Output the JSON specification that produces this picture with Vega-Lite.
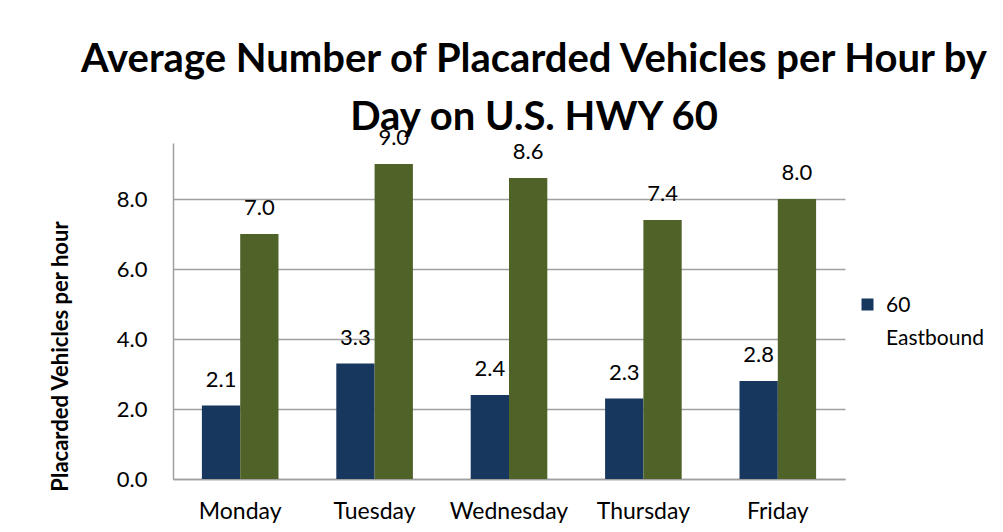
{
  "$schema": "https://vega.github.io/schema/vega-lite/v6.json",
  "width": 672,
  "height": 336,
  "autosize": {"type": "none"},
  "padding": {"left": 173, "top": 143, "right": 158, "bottom": 53},
  "background": "white",
  "title": {
    "text": ["Average Number of Placarded Vehicles per Hour by", "Day on U.S. HWY 60"],
    "font": "Lato",
    "fontSize": 40,
    "fontWeight": "bold",
    "color": "black",
    "lineHeight": 58,
    "anchor": "middle",
    "dx": 25,
    "baseline": "alphabetic",
    "offset": -43
  },
  "data": {
    "values": [
      {"day": "Monday", "series": "60 Eastbound", "value": 2.1},
      {"day": "Monday", "series": "60 Westbound", "value": 7.0},
      {"day": "Tuesday", "series": "60 Eastbound", "value": 3.3},
      {"day": "Tuesday", "series": "60 Westbound", "value": 9.0},
      {"day": "Wednesday", "series": "60 Eastbound", "value": 2.4},
      {"day": "Wednesday", "series": "60 Westbound", "value": 8.6},
      {"day": "Thursday", "series": "60 Eastbound", "value": 2.3},
      {"day": "Thursday", "series": "60 Westbound", "value": 7.4},
      {"day": "Friday", "series": "60 Eastbound", "value": 2.8},
      {"day": "Friday", "series": "60 Westbound", "value": 8.0}
    ]
  },
  "encoding": {
    "x": {
      "field": "day",
      "type": "nominal",
      "sort": ["Monday", "Tuesday", "Wednesday", "Thursday", "Friday"],
      "scale": {"paddingInner": 0.43, "paddingOuter": 0.215},
      "axis": {
        "title": null,
        "labelAngle": 0,
        "labelFont": "Lato",
        "labelFontSize": 23,
        "labelColor": "black",
        "labelPadding": 21,
        "ticks": false,
        "domainColor": "#A0A0A0",
        "domainWidth": 1.5,
        "grid": false
      }
    },
    "xOffset": {"field": "series", "type": "nominal", "scale": {"paddingInner": 0, "paddingOuter": 0}},
    "y": {
      "field": "value",
      "type": "quantitative",
      "scale": {"domain": [0, 9.6], "nice": false},
      "axis": {
        "values": [0, 2, 4, 6, 8],
        "format": ".1f",
        "title": "Placarded Vehicles per hour",
        "titleFont": "Lato",
        "titleFontSize": 22,
        "titleFontWeight": "bold",
        "titleColor": "black",
        "titleX": -113,
        "titleY": 213,
        "titleAngle": -90,
        "titleAlign": "center",
        "titleBaseline": "middle",
        "labelFont": "Lato",
        "labelFontSize": 22,
        "labelColor": "black",
        "labelPadding": 26,
        "ticks": false,
        "domainColor": "#A0A0A0",
        "domainWidth": 1.5,
        "gridColor": "#A0A0A0",
        "gridWidth": 1.5
      }
    }
  },
  "layer": [
    {
      "mark": {"type": "bar"},
      "encoding": {
        "color": {
          "field": "series",
          "type": "nominal",
          "scale": {"domain": ["60 Eastbound", "60 Westbound"], "range": ["#17375E", "#4F6228"]},
          "legend": {
            "title": null,
            "values": ["60 Eastbound"],
            "orient": "none",
            "legendX": 684,
            "legendY": 151,
            "symbolType": "square",
            "symbolSize": 144,
            "symbolStrokeWidth": 0,
            "labelFont": "Lato",
            "labelFontSize": 21,
            "labelColor": "black",
            "labelExpr": "['60', 'Eastbound']",
            "labelBaseline": "top",
            "labelOffset": 8,
            "labelLimit": 200,
            "encode": {
              "labels": {"update": {"lineHeight": {"value": 33}, "dy": {"value": -10}}}
            }
          }
        }
      }
    },
    {
      "mark": {"type": "text", "baseline": "alphabetic", "dy": -19, "font": "Lato", "fontSize": 22, "color": "black"},
      "encoding": {
        "text": {"field": "value", "type": "quantitative", "format": ".1f"}
      }
    }
  ],
  "config": {"view": {"stroke": null}}
}
